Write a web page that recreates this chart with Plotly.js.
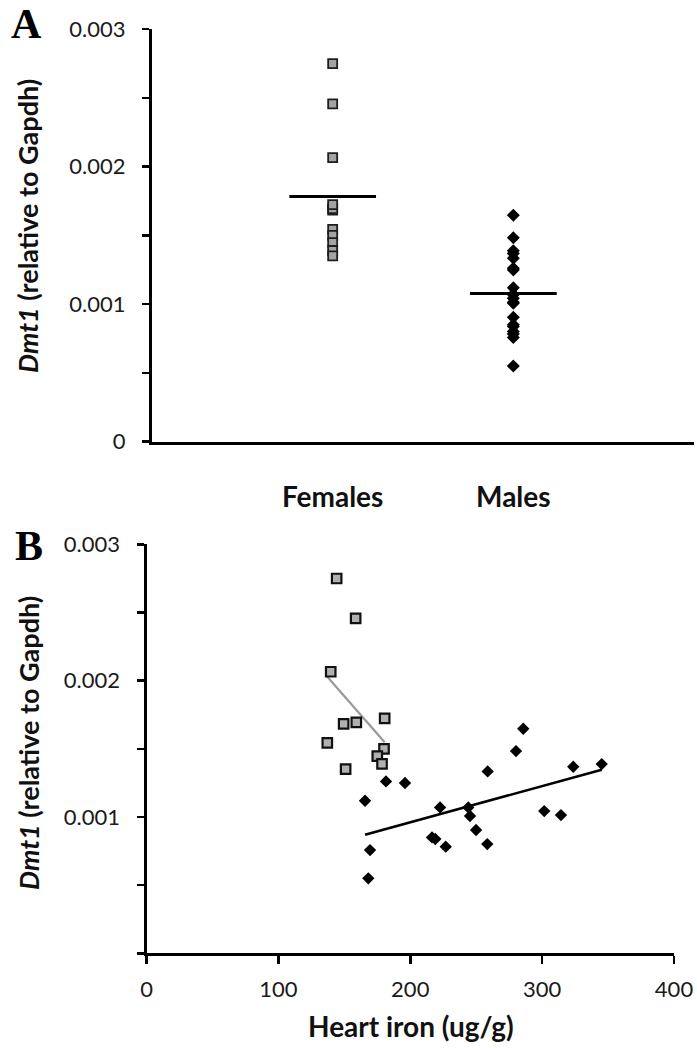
<!DOCTYPE html>
<html><head><meta charset="utf-8">
<script src="https://cdn.plot.ly/plotly-3.0.1.min.js"></script>
<style>html,body{margin:0;padding:0;background:#fff}#chart{width:697px;height:1048px}</style>
</head><body><div id="chart"></div>
<script>
// ---- data ----
const femaleIron = [144.2, 158.6, 139.7, 149.5, 159.1, 180.6, 137.1, 180.1, 175.0, 178.6, 151.0];
const femaleDmt1 = [0.002749, 0.002456, 0.002065, 0.001683, 0.001694, 0.001723, 0.001544, 0.001500, 0.001447, 0.001390, 0.001351];
const maleIron = [285.7, 280.2, 258.7, 181.6, 196.0, 165.7, 323.6, 345.2, 222.6, 244.0, 245.3, 249.9, 216.5, 219.0, 226.9, 258.4, 301.6, 314.3, 169.5, 168.2];
const maleDmt1 = [0.001647, 0.001483, 0.001334, 0.001261, 0.001249, 0.001119, 0.001368, 0.001388, 0.001070, 0.001070, 0.001007, 0.000904, 0.000850, 0.000838, 0.000782, 0.000801, 0.001043, 0.001014, 0.000757, 0.000550];
const groupLabels = ["Females", "Males"];
const yTickVals = [0, 0.001, 0.002, 0.003];
const yTickTextA = ["0", "0.001", "0.002", "0.003"];
const yTickTextB = ["", "0.001", "0.002", "0.003"];
const xTickValsB = [0, 100, 200, 300, 400];
const xTickTextB = ["0", "100", "200", "300", "400"];

// ---- helpers ----
const mean = a => a.reduce((s, v) => s + v, 0) / a.length;
function linfit(x, y) {
  const mx = mean(x), my = mean(y);
  let sxy = 0, sxx = 0;
  for (let i = 0; i < x.length; i++) { sxy += (x[i] - mx) * (y[i] - my); sxx += (x[i] - mx) ** 2; }
  const b = sxy / sxx, a = my - b * mx;
  const x0 = Math.min(...x), x1 = Math.max(...x);
  return { x: [x0, x1], y: [a + b * x0, a + b * x1] };
}

const FONT = "Lato, 'Open Sans', sans-serif";
const fPos = 1, mPos = 2, halfW = 0.24;
const fMean = mean(femaleDmt1), mMean = mean(maleDmt1);
const fFit = linfit(femaleIron, femaleDmt1), mFit = linfit(maleIron, maleDmt1);

const traces = [
  // Panel A
  { x: femaleDmt1.map(() => fPos), y: femaleDmt1, xaxis: 'x', yaxis: 'y', type: 'scatter', mode: 'markers',
    marker: { symbol: 'square', size: 9, color: '#a3a3a3', line: { color: '#1e1e1e', width: 1.8 } } },
  { x: maleDmt1.map(() => mPos), y: maleDmt1, xaxis: 'x', yaxis: 'y', type: 'scatter', mode: 'markers',
    marker: { symbol: 'diamond', size: 10, color: '#000', line: { width: 0 } } },
  { x: [fPos - halfW, fPos + halfW], y: [fMean, fMean], xaxis: 'x', yaxis: 'y', type: 'scatter', mode: 'lines',
    line: { color: '#000', width: 3 } },
  { x: [mPos - halfW, mPos + halfW], y: [mMean, mMean], xaxis: 'x', yaxis: 'y', type: 'scatter', mode: 'lines',
    line: { color: '#000', width: 3 } },
  // Panel B
  { x: fFit.x, y: fFit.y, xaxis: 'x2', yaxis: 'y2', type: 'scatter', mode: 'lines',
    line: { color: '#999', width: 2.2 } },
  { x: mFit.x, y: mFit.y, xaxis: 'x2', yaxis: 'y2', type: 'scatter', mode: 'lines',
    line: { color: '#000', width: 2.6 } },
  { x: femaleIron, y: femaleDmt1, xaxis: 'x2', yaxis: 'y2', type: 'scatter', mode: 'markers',
    marker: { symbol: 'square', size: 9.5, color: '#b0b0b0', line: { color: '#111', width: 2.2 } } },
  { x: maleIron, y: maleDmt1, xaxis: 'x2', yaxis: 'y2', type: 'scatter', mode: 'markers',
    marker: { symbol: 'diamond', size: 9.5, color: '#000', line: { width: 0 } } }
];

const H = 1048, W = 697;
const px = v => v / W, py = v => (H - v) / H;

const axBase = { showgrid: false, zeroline: false, showline: true, linecolor: '#000', linewidth: 3, fixedrange: true };
const tickFont = { family: FONT, size: 22, color: '#1a1a1a' };

const layout = {
  width: W, height: H, margin: { l: 0, r: 0, t: 0, b: 0 },
  paper_bgcolor: '#fff', plot_bgcolor: '#fff', showlegend: false, hovermode: false,
  xaxis: Object.assign({}, axBase, {
    domain: [px(152), px(694)], range: [0, 3], anchor: 'y',
    tickmode: 'array', tickvals: [fPos, mPos], ticktext: groupLabels, ticks: '',
    tickfont: { family: FONT, size: 28, color: '#111', weight: 'bold' }, ticklabelstandoff: 29
  }),
  yaxis: Object.assign({}, axBase, {
    domain: [py(441.7), py(29)], range: [0, 0.003], anchor: 'x',
    tickmode: 'array', tickvals: yTickVals, ticktext: yTickTextA,
    ticks: 'outside', ticklen: 7, tickwidth: 2.5, tickcolor: '#000', tickfont: tickFont, ticklabelstandoff: 12,
    minor: { dtick: 0.0005, ticks: 'outside', ticklen: 7, tickwidth: 2.5, tickcolor: '#000', showgrid: false }
  }),
  xaxis2: Object.assign({}, axBase, {
    domain: [px(146.5), px(674)], range: [0, 400], anchor: 'y2',
    tickmode: 'array', tickvals: xTickValsB, ticktext: xTickTextB,
    ticks: 'outside', ticklen: 8, tickwidth: 2.5, tickcolor: '#000', tickfont: tickFont, ticklabelstandoff: 6
  }),
  yaxis2: Object.assign({}, axBase, {
    domain: [py(953.3), py(544.3)], range: [0, 0.003], anchor: 'x2',
    tickmode: 'array', tickvals: yTickVals, ticktext: yTickTextB,
    ticks: 'outside', ticklen: 7, tickwidth: 2.5, tickcolor: '#000', tickfont: tickFont, ticklabelstandoff: 12,
    minor: { dtick: 0.0005, ticks: 'outside', ticklen: 7, tickwidth: 2.5, tickcolor: '#000', showgrid: false }
  }),
  annotations: [
    { text: '<b>A</b>', x: px(26), y: py(24), xref: 'paper', yref: 'paper', showarrow: false,
      xanchor: 'center', yanchor: 'middle', font: { family: "'Liberation Serif', 'DejaVu Serif', serif", size: 42, color: '#000' } },
    { text: '<b>B</b>', x: px(29), y: py(546), xref: 'paper', yref: 'paper', showarrow: false,
      xanchor: 'center', yanchor: 'middle', font: { family: "'Liberation Serif', 'DejaVu Serif', serif", size: 42, color: '#000' } },
    { text: '<b><i>Dmt1</i> (relative to Gapdh)</b>', x: px(27), y: py(226), xref: 'paper', yref: 'paper', showarrow: false,
      textangle: -90, xanchor: 'center', yanchor: 'middle', font: { family: FONT, size: 27, color: '#111' } },
    { text: '<b><i>Dmt1</i> (relative to Gapdh)</b>', x: px(28), y: py(743), xref: 'paper', yref: 'paper', showarrow: false,
      textangle: -90, xanchor: 'center', yanchor: 'middle', font: { family: FONT, size: 27, color: '#111' } },
    { text: '<b>Heart iron (ug/g)</b>', x: px(411), y: py(1026), xref: 'paper', yref: 'paper', showarrow: false,
      xanchor: 'center', yanchor: 'middle', font: { family: FONT, size: 28, color: '#111' } }
  ]
};

Plotly.newPlot('chart', traces, layout, { displayModeBar: false, staticPlot: true });
</script>
</body></html>
